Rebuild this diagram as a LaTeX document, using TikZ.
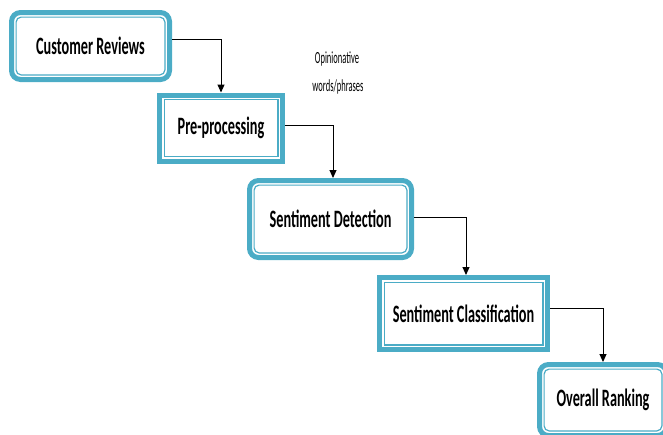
\documentclass[tikz,border=0pt]{standalone}
\usepackage{fontspec}
\newfontfamily\boxfont[FakeStretch=0.57]{Carlito}
\newfontfamily\notefont[FakeStretch=0.5]{Carlito}
\usetikzlibrary{arrows.meta}
\definecolor{tealc}{HTML}{4BACC6}
\tikzset{
  stagebox/.style={draw=tealc, line width=5pt, fill=white, inner sep=0pt,
    font=\boxfont\bfseries\fontsize{25}{28}\selectfont,
    path picture={\draw[tealc, line width=1.2pt, #1]
      ([shift={(4.6pt,-4.6pt)}]path picture bounding box.north west) rectangle
      ([shift={(-4.6pt,4.6pt)}]path picture bounding box.south east);}},
  stagebox/.default={},
  roundbox/.style={stagebox={rounded corners=5pt}, rounded corners=9pt},
  flow/.style={draw=black, line width=1pt, -{Triangle[length=8pt,width=7pt]}},
  note/.style={font=\notefont\fontsize{17}{20}\selectfont, inner sep=0pt}
}
\begin{document}
\begin{tikzpicture}[x=1pt,y=-1pt]
\useasboundingbox (0,0) rectangle (663,434);
\node[roundbox, minimum width=158pt, minimum height=67pt] (b1) at (90.5,46) {Customer Reviews};
\node[stagebox, minimum width=123pt, minimum height=66pt] (b2) at (221,128) {Pre-processing};
\node[roundbox, minimum width=162pt, minimum height=77pt] (b3) at (330.5,219) {Sentiment Detection};
\node[stagebox, minimum width=168pt, minimum height=72pt] (b4) at (463.5,313.5) {Sentiment Classification};
\node[roundbox, minimum width=127pt, minimum height=71pt] (b5) at (603,400) {Overall Ranking};
\node[note] (n1) at (337,59) {Opinionative};
\node[note] (n2) at (338,87) {words/phrases};
\draw[flow] ([yshift=7pt]b1.east) -| (b2.north);
\draw[flow] ([yshift=3pt]b2.east) -| ([xshift=2.5pt]b3.north);
\draw[flow] ([yshift=2pt]b3.east) -| ([xshift=2.5pt]b4.north);
\draw[flow] ([yshift=5.5pt]b4.east) -| (b5.north);
\end{tikzpicture}
\end{document}
